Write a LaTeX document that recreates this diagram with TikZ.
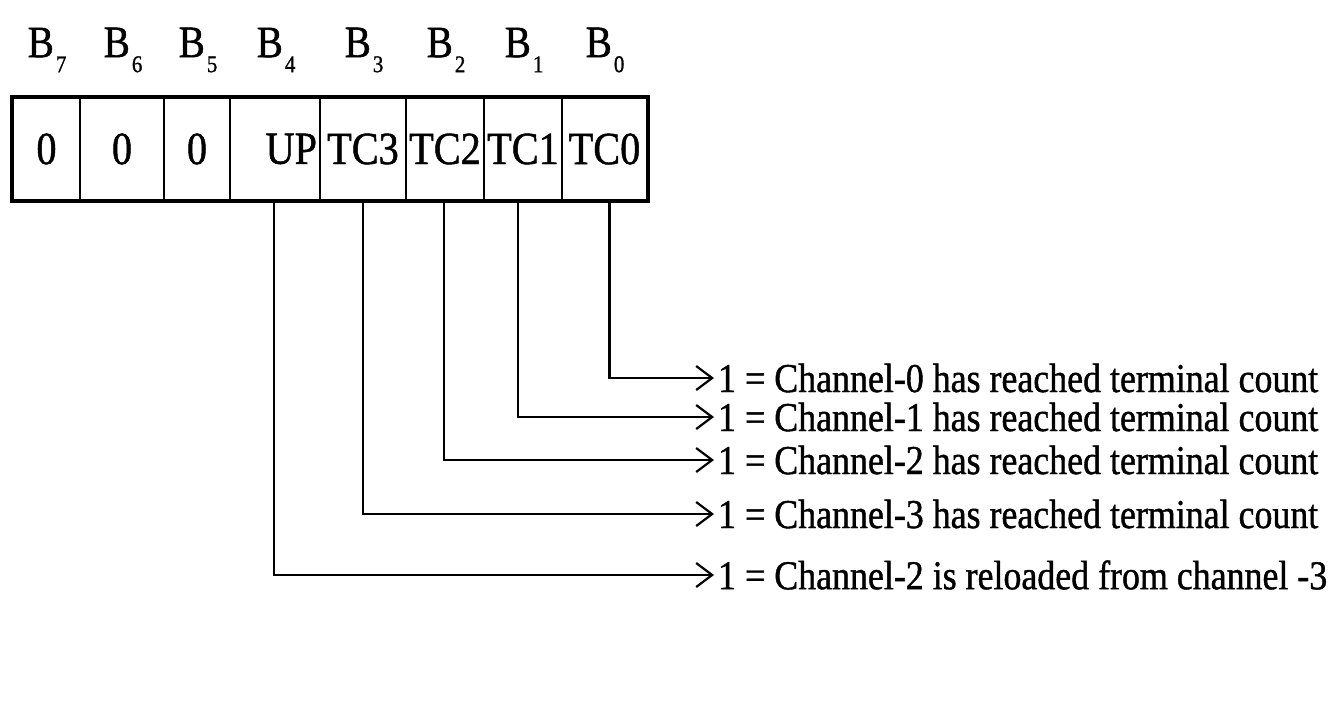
\documentclass[tikz,border=0pt]{standalone}
\usepackage{fontspec}
\setmainfont{Liberation Serif}[FakeStretch=0.875,FakeBold=1]
\usetikzlibrary{arrows.meta}
\tikzset{
  cell/.style={draw=black,line width=2pt,minimum height=102pt,inner sep=0pt,anchor=west,
    font=\fontsize{46}{52}\selectfont},
  bitlbl/.style={inner sep=0pt,font=\fontsize{45}{50}\selectfont},
  desc/.style={anchor=west,inner sep=4pt,font=\fontsize{41}{46}\selectfont},
  conn/.style={line width=2.2pt,-{Straight Barb[length=16pt,width=24pt,line width=2.2pt]}}
}
\newcommand{\bitl}[1]{B\kern2pt\raisebox{-15pt}{\fontsize{24}{24}\selectfont #1}}
\begin{document}
\begin{tikzpicture}[x=1pt,y=-1pt]
\useasboundingbox[fill=white] (0,0) rectangle (1333,710);
% register cells
\node[cell,minimum width=67pt] (c7) at (12,149) {0};
\node[cell,minimum width=84pt] (c6) at (79,149) {0};
\node[cell,minimum width=66pt] (c5) at (163,149) {0};
\node[cell,minimum width=90pt,text width=84pt,align=right] (c4) at (229,149) {UP};
\node[cell,minimum width=86pt] (c3) at (319,149) {TC3};
\node[cell,minimum width=78pt] (c2) at (405,149) {TC2};
\node[cell,minimum width=78pt] (c1) at (483,149) {TC1};
\node[cell,minimum width=85pt] (c0) at (561,149) {TC0};
\draw[line width=4pt] (c7.north west) rectangle (c0.south east);
% bit labels
\node[bitlbl] (b7) at (47,50) {\bitl{7}};
\node[bitlbl] (b6) at (123,50) {\bitl{6}};
\node[bitlbl] (b5) at (198,50) {\bitl{5}};
\node[bitlbl] (b4) at (276,50) {\bitl{4}};
\node[bitlbl] (b3) at (364,50) {\bitl{3}};
\node[bitlbl] (b2) at (446,50) {\bitl{2}};
\node[bitlbl] (b1) at (524,50) {\bitl{1}};
\node[bitlbl] (b0) at (605,50) {\bitl{0}};
% descriptions
\node[desc] (t0) at (714,378) {1 = Channel-0 has reached terminal count};
\node[desc] (t1) at (714,417) {1 = Channel-1 has reached terminal count};
\node[desc] (t2) at (714,460) {1 = Channel-2 has reached terminal count};
\node[desc] (t3) at (714,514) {1 = Channel-3 has reached terminal count};
\node[desc] (t4) at (714,575) {1 = Channel-2 is reloaded from channel -3};
% connectors
\draw[conn] ([xshift=5pt]c0.south) |- (t0.west);
\draw[conn] ([xshift=-5pt]c1.south) |- (t1.west);
\draw[conn] ([xshift=-1pt]c2.south) |- (t2.west);
\draw[conn] (c3.south) |- (t3.west);
\draw[conn] ([xshift=-1pt]c4.south) |- (t4.west);
\end{tikzpicture}
\end{document}
